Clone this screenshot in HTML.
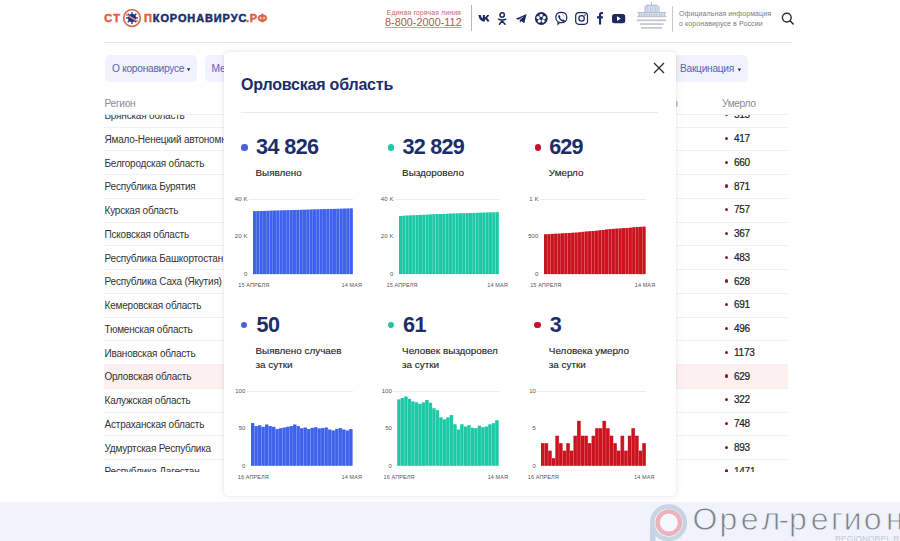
<!DOCTYPE html>
<html><head><meta charset="utf-8"><style>
*{margin:0;padding:0;box-sizing:border-box}
html,body{width:900px;height:541px;overflow:hidden;background:#fff;font-family:"Liberation Sans",sans-serif;position:relative}
.abs{position:absolute}
.t{position:absolute;white-space:nowrap;line-height:1}
.grid{position:absolute;height:1px;background:#ececec}
.bars{position:absolute;left:0;top:0}
.yl{position:absolute;font-size:6px;line-height:8px;color:#555;white-space:nowrap;letter-spacing:0.1px}
.xl{position:absolute;font-size:5.5px;line-height:10px;color:#555;white-space:nowrap;letter-spacing:0.1px}
.row{position:absolute;left:104px;width:684px;height:23.75px;border-bottom:1px solid #f1f1f3;font-size:10px;line-height:23.75px;color:#333;letter-spacing:-0.2px}
.row .n{position:absolute;left:0.5px;top:0.2px;white-space:nowrap}
.row .v{position:absolute;left:630px;top:-0.5px;font-size:10px;letter-spacing:-0.25px;color:#222;-webkit-text-stroke:0.2px #222}
.row .d{position:absolute;left:621px;top:9.2px;width:3.4px;height:3.4px;border-radius:50%;background:#8e1a2e}
.btn{position:absolute;background:#f0f3fd;border-radius:5px;font-size:10.2px;letter-spacing:-0.28px;color:#5a62b6;line-height:27.4px;white-space:nowrap}
.arr{display:inline-block;width:0;height:0;border-left:1.6px solid transparent;border-right:1.6px solid transparent;border-top:2.8px solid #2a2a3a;vertical-align:middle;margin-left:3.6px;position:relative;top:1px}
.num{position:absolute;font-weight:bold;font-size:21.6px;line-height:1;color:#1b2d6b;white-space:nowrap}
.lbl{position:absolute;font-size:9.9px;letter-spacing:0px;color:#222;white-space:nowrap;line-height:14.6px;-webkit-text-stroke:0.12px #222}
.dot{position:absolute;width:6.4px;height:6.4px;border-radius:50%}
</style></head><body>


<div class="t" style="left:104.2px;top:13.3px;font-weight:bold;font-size:11px;color:#e0603e;letter-spacing:1.3px;-webkit-text-stroke:0.5px #e0603e">СТ</div>
<svg class="abs" style="left:122.25px;top:8.25px" width="20" height="20" viewBox="0 0 20 20">
<circle cx="10" cy="10" r="8.3" fill="#fff" stroke="#d8705a" stroke-width="1.8"/>
<circle cx="10" cy="10" r="4" fill="#1f2f86"/>
<g stroke="#1f2f86" stroke-width="1.3"><line x1="10" y1="4" x2="10" y2="16"/><line x1="4" y1="10" x2="16" y2="10"/><line x1="5.7" y1="5.7" x2="14.3" y2="14.3"/><line x1="14.3" y1="5.7" x2="5.7" y2="14.3"/></g>
<line x1="4" y1="6.5" x2="16" y2="13.5" stroke="#e08a80" stroke-width="1.6"/>
</svg>
<div class="t" style="left:144px;top:13.3px;font-weight:bold;font-size:11px;color:#e0603e;-webkit-text-stroke:0.5px #e0603e">П</div>
<div class="t" style="left:152.8px;top:13.3px;font-weight:bold;font-size:11px;color:#1e2d6e;letter-spacing:0.88px;-webkit-text-stroke:0.5px #1e2d6e">КОРОНАВИРУС</div>
<div class="t" style="left:246px;top:13.3px;font-weight:bold;font-size:11px;color:#e0603e;letter-spacing:0.8px;-webkit-text-stroke:0.5px #e0603e">.РФ</div>

<div class="t" style="left:386.8px;top:9.6px;font-size:6.9px;color:#c46a5e;letter-spacing:0.12px">Единая горячая линия</div>
<div class="t" style="left:385px;top:17.2px;font-size:10.9px;color:#bc524a;text-decoration:underline;text-decoration-color:#e89890">8-800-2000-112</div>
<div class="abs" style="left:471px;top:5px;width:1px;height:26px;background:#b8b8bc"></div>


<svg class="abs" style="left:470px;top:5px" width="165" height="26" viewBox="470 5 165 26" fill="#1b2a5e">
<!-- VK -->
<path d="M478.5 15 h2.3 c0.2 1.8 1.2 3.2 2 3.5 V15 h2.1 v2.2 c0.8-0.1 1.8-1.3 2.1-2.2 h2.1 c-0.3 1.3-1.4 2.5-2.1 3 c0.8 0.4 1.9 1.5 2.4 3.5 h-2.3 c-0.4-1.2-1.3-2.1-2.2-2.2 V21.5 h-0.5 c-3.3 0-5.6-2.5-5.9-6.5z"/>
<!-- OK -->
<circle cx="502.2" cy="15" r="2.2" fill="none" stroke="#1b2a5e" stroke-width="1.5"/>
<path d="M498.6 19.2 c1.6 1.1 5.6 1.1 7.2 0" fill="none" stroke="#1b2a5e" stroke-width="1.5" stroke-linecap="round"/>
<path d="M499.4 24.2 l2.8-3.2 l2.8 3.2" fill="none" stroke="#1b2a5e" stroke-width="1.5" stroke-linecap="round"/>
<!-- Telegram -->
<path d="M515.8 18.7 L526.6 14 L524.3 23.3 L521.3 21 L519.9 22.7 L519.7 19.9 L524.2 16.1 L518.4 19.7 Z"/>
<!-- Flower circle -->
<circle cx="541.3" cy="18.5" r="6.4"/>
<g fill="#fff"><circle cx="541.2" cy="15.3" r="1.65"/><circle cx="544.3" cy="17.6" r="1.65"/><circle cx="543.1" cy="21" r="1.65"/><circle cx="539.3" cy="21" r="1.65"/><circle cx="538.1" cy="17.6" r="1.65"/></g>
<!-- Viber -->
<path d="M561.2 12.4 c3.4 0 5.6 1.6 5.6 5 c0 3.4-2.2 5.2-5.6 5.2 c-0.6 0-1.2-0.1-1.7-0.2 l-1.5 1.8 v-2.4 c-1.4-0.8-2.2-2.2-2.2-4.4 c0-3.4 2-5 5.4-5z" fill="none" stroke="#1b2a5e" stroke-width="1.2"/>
<path d="M558.6 15.2 c0.5-0.5 1-0.3 1.2 0.2 l0.5 1 c0.2 0.4 0 0.7-0.3 1 c0.5 1.2 1.3 2 2.4 2.5 c0.3-0.3 0.6-0.5 1-0.3 l1 0.5 c0.5 0.3 0.6 0.8 0.1 1.2 c-0.6 0.6-1.3 0.7-2.1 0.3 c-2-1-3.4-2.5-4.1-4.6 c-0.2-0.7 0-1.3 0.3-1.8z"/>
<path d="M562 14.6 c1.2 0.1 2 0.9 2.1 2.1" fill="none" stroke="#8c96b4" stroke-width="0.6"/>
<!-- Instagram -->
<rect x="575.7" y="12.5" width="11.8" height="11.8" rx="3.2" fill="none" stroke="#1b2a5e" stroke-width="1.25"/>
<circle cx="581.6" cy="18.4" r="2.7" fill="none" stroke="#1b2a5e" stroke-width="1.25"/>
<circle cx="585" cy="15" r="0.8"/>
<!-- Facebook -->
<path d="M599 24.5 v-6 h-2 v-2.2 h2 v-1.7 c0-1.8 1-2.7 2.6-2.7 c0.7 0 1.4 0.1 1.4 0.1 v2 h-0.9 c-0.8 0-1 0.4-1 1 v1.3 h2 l-0.3 2.2 h-1.7 v6z"/>
<!-- YouTube -->
<rect x="612" y="14" width="13.2" height="9.2" rx="2.5"/>
<path d="M617 16.3 v4.6 l3.8-2.3z" fill="#fff"/>
</svg>


<svg class="abs" style="left:0;top:0" width="900" height="36" viewBox="0 0 900 36">
<rect x="651.3" y="1.8" width="0.7" height="3" fill="#9aa8c0"/>
<rect x="646" y="4.6" width="11.5" height="1.4" fill="#b4c0d6"/>
<rect x="644" y="6" width="16" height="6.2" fill="#d2dcec"/>
<g fill="#b0bed6"><rect x="645" y="6.5" width="0.6" height="5.5"/><rect x="647.5" y="6.5" width="0.6" height="5.5"/><rect x="650" y="6.5" width="0.6" height="5.5"/><rect x="652.5" y="6.5" width="0.6" height="5.5"/><rect x="655" y="6.5" width="0.6" height="5.5"/><rect x="657.5" y="6.5" width="0.6" height="5.5"/></g>
<rect x="637.5" y="12" width="28.5" height="1.2" fill="#b4c0d6"/>
<rect x="638" y="13.2" width="27.5" height="3.3" fill="#d4dcea"/>
<g fill="#aab6cc"><rect x="639" y="13.2" width="0.6" height="3.3"/><rect x="641.5" y="13.2" width="0.6" height="3.3"/><rect x="644" y="13.2" width="0.6" height="3.3"/><rect x="646.5" y="13.2" width="0.6" height="3.3"/><rect x="649" y="13.2" width="0.6" height="3.3"/><rect x="651.5" y="13.2" width="0.6" height="3.3"/><rect x="654" y="13.2" width="0.6" height="3.3"/><rect x="656.5" y="13.2" width="0.6" height="3.3"/><rect x="659" y="13.2" width="0.6" height="3.3"/><rect x="661.5" y="13.2" width="0.6" height="3.3"/><rect x="664" y="13.2" width="0.6" height="3.3"/></g>
<rect x="637" y="16.4" width="29.5" height="0.8" fill="#a8b2c6"/>
<g fill="#c2c6d0"><rect x="636.8" y="19.4" width="29.2" height="1.8"/><rect x="640" y="23.2" width="23.5" height="1.7"/><rect x="641" y="27" width="21" height="1.7"/></g>
</svg>
<div class="abs" style="left:672px;top:5.5px;width:1px;height:26px;background:#c8c8cc"></div>
<div class="t" style="left:679px;top:9px;font-size:7px;line-height:10px;color:#7a7a84;letter-spacing:0.1px">Официальная информация<br>о коронавирусе в России</div>
<svg class="abs" style="left:780px;top:11px" width="16" height="16" viewBox="0 0 16 16">
<circle cx="6.8" cy="6.6" r="4.4" fill="none" stroke="#252c40" stroke-width="1.4"/>
<line x1="10" y1="9.8" x2="13.2" y2="13" stroke="#252c40" stroke-width="1.5" stroke-linecap="round"/>
</svg>
<div class="abs" style="left:104px;top:42px;width:688px;height:1px;background:#e6e6e8"></div>


<div class="btn" style="left:105px;top:54.8px;width:92px;height:26.9px;padding-left:7px">О коронавирусе</div>
<div class="btn" style="left:204.6px;top:54.8px;width:120px;height:26.9px;padding-left:7px">Меры поддержки</div>
<div class="btn" style="left:600px;top:54.8px;width:148px;height:26.9px;padding-left:80px">Вакцинация</div>
<svg class="abs" style="left:0;top:0" width="900" height="100" viewBox="0 0 900 100"><path d="M186.9 68.2 H190.3 L188.6 71.2z M737.7 68.4 H741.1 L739.4 71.4z" fill="#2a2a3a"/></svg>


<div class="t" style="left:104.5px;top:99.4px;font-size:10.2px;color:#8a8a94;letter-spacing:-0.3px">Регион</div>
<div class="t" style="right:222.5px;top:99.4px;font-size:10.2px;color:#8a8a94;letter-spacing:-0.3px">Выздоровело</div>
<div class="t" style="left:722px;top:99.4px;font-size:10.2px;color:#8a8a94;letter-spacing:-0.38px">Умерло</div>

<div class="abs" style="left:104px;top:114px;width:684px;height:1px;background:#f0f0f2"></div>
<div class="abs" style="left:0;top:114.6px;width:900px;height:357.9px;overflow:hidden">
<div class="row" style="top:-10.75px;"><span class="n">Брянская область</span><span class="d"></span><span class="v">515</span></div>
<div class="row" style="top:13.00px;"><span class="n">Ямало-Ненецкий автономный округ</span><span class="d"></span><span class="v">417</span></div>
<div class="row" style="top:36.75px;"><span class="n">Белгородская область</span><span class="d"></span><span class="v">660</span></div>
<div class="row" style="top:60.50px;"><span class="n">Республика Бурятия</span><span class="d"></span><span class="v">871</span></div>
<div class="row" style="top:84.25px;"><span class="n">Курская область</span><span class="d"></span><span class="v">757</span></div>
<div class="row" style="top:108.00px;"><span class="n">Псковская область</span><span class="d"></span><span class="v">367</span></div>
<div class="row" style="top:131.75px;"><span class="n">Республика Башкортостан</span><span class="d"></span><span class="v">483</span></div>
<div class="row" style="top:155.50px;"><span class="n">Республика Саха (Якутия)</span><span class="d"></span><span class="v">628</span></div>
<div class="row" style="top:179.25px;"><span class="n">Кемеровская область</span><span class="d"></span><span class="v">691</span></div>
<div class="row" style="top:203.00px;"><span class="n">Тюменская область</span><span class="d"></span><span class="v">496</span></div>
<div class="row" style="top:226.75px;"><span class="n">Ивановская область</span><span class="d"></span><span class="v">1173</span></div>
<div class="row" style="top:250.50px;background:#fdf0f0;"><span class="n">Орловская область</span><span class="d"></span><span class="v">629</span></div>
<div class="row" style="top:274.25px;"><span class="n">Калужская область</span><span class="d"></span><span class="v">322</span></div>
<div class="row" style="top:298.00px;"><span class="n">Астраханская область</span><span class="d"></span><span class="v">748</span></div>
<div class="row" style="top:321.75px;"><span class="n">Удмуртская Республика</span><span class="d"></span><span class="v">893</span></div>
<div class="row" style="top:345.50px;"><span class="n">Республика Дагестан</span><span class="d"></span><span class="v">1471</span></div>
</div>

<div class="abs" style="left:0;top:502px;width:900px;height:39px;background:#f0f3fb"></div>
<svg class="abs" style="left:0;top:0" width="900" height="541" viewBox="0 0 900 541">
<circle cx="668.5" cy="522.7" r="16.3" fill="none" stroke="#c8d3e3" stroke-width="4.5"/>
<rect x="650" y="522.7" width="5.5" height="20" fill="#c8d3e3"/>
<circle cx="668.8" cy="522.6" r="13.6" fill="#f6f8fc"/>
<circle cx="668.8" cy="522.6" r="11.2" fill="none" stroke="#ebb3bb" stroke-width="4.4"/>
<text x="692.5 719.5 740.7 761.4 778.6 788.9 810.7 830.9 843.7 863.8 885.9" y="530" font-family="Liberation Sans" font-size="32" fill="#7c8088" stroke="#f0f3fb" stroke-width="0.8">Орел-регион</text>
<text x="835" y="542" font-family="Liberation Sans" font-size="8.4" fill="#c4cad8" letter-spacing="0">REGIONOREL.RU</text>
</svg>


<div class="abs" style="left:223.5px;top:52px;width:452px;height:443.5px;background:#fff;border-radius:4px;box-shadow:0 0 8px rgba(0,0,0,0.07),0 0 1.5px rgba(0,0,0,0.12)"></div>
<div class="t" style="left:241px;top:77px;font-weight:bold;font-size:16px;color:#1b2d6b;letter-spacing:-0.2px">Орловская область</div>
<svg class="abs" style="left:652px;top:61px" width="14" height="14" viewBox="0 0 14 14"><path d="M2 2 L12 12 M12 2 L2 12" stroke="#2a2a2a" stroke-width="1.25"/></svg>
<div class="abs" style="left:241px;top:112px;width:416.5px;height:1px;background:#ebebed"></div>

<div class="dot" style="left:241.4px;top:144.4px;background:#4a60dc"></div>
<div class="num" style="left:256.0px;top:135.9px;letter-spacing:-0.6px">34 826</div>
<div class="lbl" style="left:255.5px;top:165.8px">Выявлено</div>
<div class="dot" style="left:240.9px;top:321.6px;background:#4a60dc"></div>
<div class="num" style="left:256.5px;top:314.2px;letter-spacing:-0.6px">50</div>
<div class="lbl" style="left:255.5px;top:343.6px">Выявлено случаев<br>за сутки</div>
<div class="dot" style="left:388.0px;top:144.4px;background:#22c5a2"></div>
<div class="num" style="left:402.6px;top:135.9px;letter-spacing:-0.8px">32 829</div>
<div class="lbl" style="left:402.1px;top:165.8px">Выздоровело</div>
<div class="dot" style="left:387.5px;top:321.6px;background:#22c5a2"></div>
<div class="num" style="left:403.1px;top:314.2px;letter-spacing:-0.6px">61</div>
<div class="lbl" style="left:402.1px;top:343.6px">Человек выздоровел<br>за сутки</div>
<div class="dot" style="left:534.7px;top:144.4px;background:#c8102e"></div>
<div class="num" style="left:549.3px;top:135.9px;letter-spacing:-0.95px">629</div>
<div class="lbl" style="left:548.8px;top:165.8px">Умерло</div>
<div class="dot" style="left:534.2px;top:321.6px;background:#c8102e"></div>
<div class="num" style="left:549.8px;top:314.2px;letter-spacing:-0.6px">3</div>
<div class="lbl" style="left:548.8px;top:343.6px">Человека умерло<br>за сутки</div>
<div class="grid" style="left:248.5px;top:198.8px;width:104.5px"></div>
<svg class="bars" width="900" height="541" viewBox="0 0 900 541"><rect x="253.00" y="211.24" width="3.33" height="62.86" fill="#8aa2ff"/><rect x="253.00" y="211.24" width="2.93" height="62.86" fill="#3f62ec"/><rect x="256.33" y="211.14" width="3.33" height="62.96" fill="#8aa2ff"/><rect x="256.33" y="211.14" width="2.93" height="62.96" fill="#3f62ec"/><rect x="259.67" y="211.04" width="3.33" height="63.06" fill="#8aa2ff"/><rect x="259.67" y="211.04" width="2.93" height="63.06" fill="#3f62ec"/><rect x="263.00" y="210.94" width="3.33" height="63.16" fill="#8aa2ff"/><rect x="263.00" y="210.94" width="2.93" height="63.16" fill="#3f62ec"/><rect x="266.33" y="210.84" width="3.33" height="63.26" fill="#8aa2ff"/><rect x="266.33" y="210.84" width="2.93" height="63.26" fill="#3f62ec"/><rect x="269.67" y="210.73" width="3.33" height="63.37" fill="#8aa2ff"/><rect x="269.67" y="210.73" width="2.93" height="63.37" fill="#3f62ec"/><rect x="273.00" y="210.63" width="3.33" height="63.47" fill="#8aa2ff"/><rect x="273.00" y="210.63" width="2.93" height="63.47" fill="#3f62ec"/><rect x="276.33" y="210.54" width="3.33" height="63.56" fill="#8aa2ff"/><rect x="276.33" y="210.54" width="2.93" height="63.56" fill="#3f62ec"/><rect x="279.67" y="210.44" width="3.33" height="63.66" fill="#8aa2ff"/><rect x="279.67" y="210.44" width="2.93" height="63.66" fill="#3f62ec"/><rect x="283.00" y="210.35" width="3.33" height="63.75" fill="#8aa2ff"/><rect x="283.00" y="210.35" width="2.93" height="63.75" fill="#3f62ec"/><rect x="286.33" y="210.25" width="3.33" height="63.85" fill="#8aa2ff"/><rect x="286.33" y="210.25" width="2.93" height="63.85" fill="#3f62ec"/><rect x="289.67" y="210.15" width="3.33" height="63.95" fill="#8aa2ff"/><rect x="289.67" y="210.15" width="2.93" height="63.95" fill="#3f62ec"/><rect x="293.00" y="210.06" width="3.33" height="64.04" fill="#8aa2ff"/><rect x="293.00" y="210.06" width="2.93" height="64.04" fill="#3f62ec"/><rect x="296.33" y="209.95" width="3.33" height="64.15" fill="#8aa2ff"/><rect x="296.33" y="209.95" width="2.93" height="64.15" fill="#3f62ec"/><rect x="299.67" y="209.85" width="3.33" height="64.25" fill="#8aa2ff"/><rect x="299.67" y="209.85" width="2.93" height="64.25" fill="#3f62ec"/><rect x="303.00" y="209.76" width="3.33" height="64.34" fill="#8aa2ff"/><rect x="303.00" y="209.76" width="2.93" height="64.34" fill="#3f62ec"/><rect x="306.33" y="209.66" width="3.33" height="64.44" fill="#8aa2ff"/><rect x="306.33" y="209.66" width="2.93" height="64.44" fill="#3f62ec"/><rect x="309.67" y="209.57" width="3.33" height="64.53" fill="#8aa2ff"/><rect x="309.67" y="209.57" width="2.93" height="64.53" fill="#3f62ec"/><rect x="313.00" y="209.47" width="3.33" height="64.63" fill="#8aa2ff"/><rect x="313.00" y="209.47" width="2.93" height="64.63" fill="#3f62ec"/><rect x="316.33" y="209.38" width="3.33" height="64.72" fill="#8aa2ff"/><rect x="316.33" y="209.38" width="2.93" height="64.72" fill="#3f62ec"/><rect x="319.67" y="209.28" width="3.33" height="64.82" fill="#8aa2ff"/><rect x="319.67" y="209.28" width="2.93" height="64.82" fill="#3f62ec"/><rect x="323.00" y="209.19" width="3.33" height="64.91" fill="#8aa2ff"/><rect x="323.00" y="209.19" width="2.93" height="64.91" fill="#3f62ec"/><rect x="326.33" y="209.09" width="3.33" height="65.01" fill="#8aa2ff"/><rect x="326.33" y="209.09" width="2.93" height="65.01" fill="#3f62ec"/><rect x="329.67" y="209.00" width="3.33" height="65.10" fill="#8aa2ff"/><rect x="329.67" y="209.00" width="2.93" height="65.10" fill="#3f62ec"/><rect x="333.00" y="208.91" width="3.33" height="65.19" fill="#8aa2ff"/><rect x="333.00" y="208.91" width="2.93" height="65.19" fill="#3f62ec"/><rect x="336.33" y="208.82" width="3.33" height="65.28" fill="#8aa2ff"/><rect x="336.33" y="208.82" width="2.93" height="65.28" fill="#3f62ec"/><rect x="339.67" y="208.72" width="3.33" height="65.38" fill="#8aa2ff"/><rect x="339.67" y="208.72" width="2.93" height="65.38" fill="#3f62ec"/><rect x="343.00" y="208.63" width="3.33" height="65.47" fill="#8aa2ff"/><rect x="343.00" y="208.63" width="2.93" height="65.47" fill="#3f62ec"/><rect x="346.33" y="208.55" width="3.33" height="65.55" fill="#8aa2ff"/><rect x="346.33" y="208.55" width="2.93" height="65.55" fill="#3f62ec"/><rect x="349.67" y="208.45" width="3.33" height="65.65" fill="#8aa2ff"/><rect x="349.67" y="208.45" width="2.93" height="65.65" fill="#3f62ec"/></svg>
<div class="yl" style="right:652.5px;top:194.7px">40 K</div>
<div class="yl" style="right:652.5px;top:232.4px">20 K</div>
<div class="yl" style="right:652.5px;top:270.1px">0</div>
<div class="xl" style="left:238.3px;top:280.3px">15 АПРЕЛЯ</div>
<div class="xl" style="right:538.0px;top:280.3px">14 МАЯ</div>
<div class="grid" style="left:394.5px;top:198.8px;width:104.5px"></div>
<svg class="bars" width="900" height="541" viewBox="0 0 900 541"><rect x="399.00" y="215.94" width="3.33" height="58.16" fill="#7fe8d0"/><rect x="399.00" y="215.94" width="2.93" height="58.16" fill="#1ec8a5"/><rect x="402.33" y="215.78" width="3.33" height="58.32" fill="#7fe8d0"/><rect x="402.33" y="215.78" width="2.93" height="58.32" fill="#1ec8a5"/><rect x="405.67" y="215.61" width="3.33" height="58.49" fill="#7fe8d0"/><rect x="405.67" y="215.61" width="2.93" height="58.49" fill="#1ec8a5"/><rect x="409.00" y="215.43" width="3.33" height="58.67" fill="#7fe8d0"/><rect x="409.00" y="215.43" width="2.93" height="58.67" fill="#1ec8a5"/><rect x="412.33" y="215.26" width="3.33" height="58.84" fill="#7fe8d0"/><rect x="412.33" y="215.26" width="2.93" height="58.84" fill="#1ec8a5"/><rect x="415.67" y="215.10" width="3.33" height="59.00" fill="#7fe8d0"/><rect x="415.67" y="215.10" width="2.93" height="59.00" fill="#1ec8a5"/><rect x="419.00" y="214.94" width="3.33" height="59.16" fill="#7fe8d0"/><rect x="419.00" y="214.94" width="2.93" height="59.16" fill="#1ec8a5"/><rect x="422.33" y="214.79" width="3.33" height="59.31" fill="#7fe8d0"/><rect x="422.33" y="214.79" width="2.93" height="59.31" fill="#1ec8a5"/><rect x="425.67" y="214.63" width="3.33" height="59.47" fill="#7fe8d0"/><rect x="425.67" y="214.63" width="2.93" height="59.47" fill="#1ec8a5"/><rect x="429.00" y="214.46" width="3.33" height="59.64" fill="#7fe8d0"/><rect x="429.00" y="214.46" width="2.93" height="59.64" fill="#1ec8a5"/><rect x="432.33" y="214.30" width="3.33" height="59.80" fill="#7fe8d0"/><rect x="432.33" y="214.30" width="2.93" height="59.80" fill="#1ec8a5"/><rect x="435.67" y="214.16" width="3.33" height="59.94" fill="#7fe8d0"/><rect x="435.67" y="214.16" width="2.93" height="59.94" fill="#1ec8a5"/><rect x="439.00" y="214.02" width="3.33" height="60.08" fill="#7fe8d0"/><rect x="439.00" y="214.02" width="2.93" height="60.08" fill="#1ec8a5"/><rect x="442.33" y="213.90" width="3.33" height="60.20" fill="#7fe8d0"/><rect x="442.33" y="213.90" width="2.93" height="60.20" fill="#1ec8a5"/><rect x="445.67" y="213.78" width="3.33" height="60.32" fill="#7fe8d0"/><rect x="445.67" y="213.78" width="2.93" height="60.32" fill="#1ec8a5"/><rect x="449.00" y="213.66" width="3.33" height="60.44" fill="#7fe8d0"/><rect x="449.00" y="213.66" width="2.93" height="60.44" fill="#1ec8a5"/><rect x="452.33" y="213.53" width="3.33" height="60.57" fill="#7fe8d0"/><rect x="452.33" y="213.53" width="2.93" height="60.57" fill="#1ec8a5"/><rect x="455.67" y="213.43" width="3.33" height="60.67" fill="#7fe8d0"/><rect x="455.67" y="213.43" width="2.93" height="60.67" fill="#1ec8a5"/><rect x="459.00" y="213.33" width="3.33" height="60.77" fill="#7fe8d0"/><rect x="459.00" y="213.33" width="2.93" height="60.77" fill="#1ec8a5"/><rect x="462.33" y="213.23" width="3.33" height="60.87" fill="#7fe8d0"/><rect x="462.33" y="213.23" width="2.93" height="60.87" fill="#1ec8a5"/><rect x="465.67" y="213.13" width="3.33" height="60.97" fill="#7fe8d0"/><rect x="465.67" y="213.13" width="2.93" height="60.97" fill="#1ec8a5"/><rect x="469.00" y="213.03" width="3.33" height="61.07" fill="#7fe8d0"/><rect x="469.00" y="213.03" width="2.93" height="61.07" fill="#1ec8a5"/><rect x="472.33" y="212.93" width="3.33" height="61.17" fill="#7fe8d0"/><rect x="472.33" y="212.93" width="2.93" height="61.17" fill="#1ec8a5"/><rect x="475.67" y="212.84" width="3.33" height="61.26" fill="#7fe8d0"/><rect x="475.67" y="212.84" width="2.93" height="61.26" fill="#1ec8a5"/><rect x="479.00" y="212.74" width="3.33" height="61.36" fill="#7fe8d0"/><rect x="479.00" y="212.74" width="2.93" height="61.36" fill="#1ec8a5"/><rect x="482.33" y="212.64" width="3.33" height="61.46" fill="#7fe8d0"/><rect x="482.33" y="212.64" width="2.93" height="61.46" fill="#1ec8a5"/><rect x="485.67" y="212.54" width="3.33" height="61.56" fill="#7fe8d0"/><rect x="485.67" y="212.54" width="2.93" height="61.56" fill="#1ec8a5"/><rect x="489.00" y="212.44" width="3.33" height="61.66" fill="#7fe8d0"/><rect x="489.00" y="212.44" width="2.93" height="61.66" fill="#1ec8a5"/><rect x="492.33" y="212.33" width="3.33" height="61.77" fill="#7fe8d0"/><rect x="492.33" y="212.33" width="2.93" height="61.77" fill="#1ec8a5"/><rect x="495.67" y="212.22" width="3.33" height="61.88" fill="#7fe8d0"/><rect x="495.67" y="212.22" width="2.93" height="61.88" fill="#1ec8a5"/></svg>
<div class="yl" style="right:506.5px;top:194.7px">40 K</div>
<div class="yl" style="right:506.5px;top:232.4px">20 K</div>
<div class="yl" style="right:506.5px;top:270.1px">0</div>
<div class="xl" style="left:386.5px;top:280.3px">15 АПРЕЛЯ</div>
<div class="xl" style="right:392.2px;top:280.3px">14 МАЯ</div>
<div class="grid" style="left:539.5px;top:198.8px;width:106.3px"></div>
<svg class="bars" width="900" height="541" viewBox="0 0 900 541"><rect x="544.00" y="234.36" width="3.39" height="39.74" fill="#f07078"/><rect x="544.00" y="234.36" width="2.99" height="39.74" fill="#c91420"/><rect x="547.39" y="234.14" width="3.39" height="39.96" fill="#f07078"/><rect x="547.39" y="234.14" width="2.99" height="39.96" fill="#c91420"/><rect x="550.79" y="233.91" width="3.39" height="40.19" fill="#f07078"/><rect x="550.79" y="233.91" width="2.99" height="40.19" fill="#c91420"/><rect x="554.18" y="233.76" width="3.39" height="40.34" fill="#f07078"/><rect x="554.18" y="233.76" width="2.99" height="40.34" fill="#c91420"/><rect x="557.57" y="233.69" width="3.39" height="40.41" fill="#f07078"/><rect x="557.57" y="233.69" width="2.99" height="40.41" fill="#c91420"/><rect x="560.97" y="233.38" width="3.39" height="40.72" fill="#f07078"/><rect x="560.97" y="233.38" width="2.99" height="40.72" fill="#c91420"/><rect x="564.36" y="233.16" width="3.39" height="40.94" fill="#f07078"/><rect x="564.36" y="233.16" width="2.99" height="40.94" fill="#c91420"/><rect x="567.75" y="233.01" width="3.39" height="41.09" fill="#f07078"/><rect x="567.75" y="233.01" width="2.99" height="41.09" fill="#c91420"/><rect x="571.15" y="232.78" width="3.39" height="41.32" fill="#f07078"/><rect x="571.15" y="232.78" width="2.99" height="41.32" fill="#c91420"/><rect x="574.54" y="232.63" width="3.39" height="41.47" fill="#f07078"/><rect x="574.54" y="232.63" width="2.99" height="41.47" fill="#c91420"/><rect x="577.93" y="232.33" width="3.39" height="41.77" fill="#f07078"/><rect x="577.93" y="232.33" width="2.99" height="41.77" fill="#c91420"/><rect x="581.33" y="231.88" width="3.39" height="42.22" fill="#f07078"/><rect x="581.33" y="231.88" width="2.99" height="42.22" fill="#c91420"/><rect x="584.72" y="231.57" width="3.39" height="42.53" fill="#f07078"/><rect x="584.72" y="231.57" width="2.99" height="42.53" fill="#c91420"/><rect x="588.11" y="231.27" width="3.39" height="42.83" fill="#f07078"/><rect x="588.11" y="231.27" width="2.99" height="42.83" fill="#c91420"/><rect x="591.51" y="231.05" width="3.39" height="43.05" fill="#f07078"/><rect x="591.51" y="231.05" width="2.99" height="43.05" fill="#c91420"/><rect x="594.90" y="230.75" width="3.39" height="43.36" fill="#f07078"/><rect x="594.90" y="230.75" width="2.99" height="43.36" fill="#c91420"/><rect x="598.29" y="230.37" width="3.39" height="43.73" fill="#f07078"/><rect x="598.29" y="230.37" width="2.99" height="43.73" fill="#c91420"/><rect x="601.69" y="229.99" width="3.39" height="44.11" fill="#f07078"/><rect x="601.69" y="229.99" width="2.99" height="44.11" fill="#c91420"/><rect x="605.08" y="229.54" width="3.39" height="44.56" fill="#f07078"/><rect x="605.08" y="229.54" width="2.99" height="44.56" fill="#c91420"/><rect x="608.47" y="229.16" width="3.39" height="44.94" fill="#f07078"/><rect x="608.47" y="229.16" width="2.99" height="44.94" fill="#c91420"/><rect x="611.87" y="228.86" width="3.39" height="45.24" fill="#f07078"/><rect x="611.87" y="228.86" width="2.99" height="45.24" fill="#c91420"/><rect x="615.26" y="228.63" width="3.39" height="45.47" fill="#f07078"/><rect x="615.26" y="228.63" width="2.99" height="45.47" fill="#c91420"/><rect x="618.65" y="228.48" width="3.39" height="45.62" fill="#f07078"/><rect x="618.65" y="228.48" width="2.99" height="45.62" fill="#c91420"/><rect x="622.05" y="228.18" width="3.39" height="45.92" fill="#f07078"/><rect x="622.05" y="228.18" width="2.99" height="45.92" fill="#c91420"/><rect x="625.44" y="228.03" width="3.39" height="46.07" fill="#f07078"/><rect x="625.44" y="228.03" width="2.99" height="46.07" fill="#c91420"/><rect x="628.83" y="227.73" width="3.39" height="46.37" fill="#f07078"/><rect x="628.83" y="227.73" width="2.99" height="46.37" fill="#c91420"/><rect x="632.23" y="227.35" width="3.39" height="46.75" fill="#f07078"/><rect x="632.23" y="227.35" width="2.99" height="46.75" fill="#c91420"/><rect x="635.62" y="227.05" width="3.39" height="47.05" fill="#f07078"/><rect x="635.62" y="227.05" width="2.99" height="47.05" fill="#c91420"/><rect x="639.01" y="226.90" width="3.39" height="47.20" fill="#f07078"/><rect x="639.01" y="226.90" width="2.99" height="47.20" fill="#c91420"/><rect x="642.41" y="226.67" width="3.39" height="47.43" fill="#f07078"/><rect x="642.41" y="226.67" width="2.99" height="47.43" fill="#c91420"/></svg>
<div class="yl" style="right:361.5px;top:194.7px">1 K</div>
<div class="yl" style="right:361.5px;top:232.4px">500</div>
<div class="yl" style="right:361.5px;top:270.1px">0</div>
<div class="xl" style="left:530.2px;top:280.3px">15 АПРЕЛЯ</div>
<div class="xl" style="right:244.8px;top:280.3px">14 МАЯ</div>
<div class="grid" style="left:246.5px;top:391.1px;width:106.2px"></div>
<svg class="bars" width="900" height="541" viewBox="0 0 900 541"><rect x="251.00" y="423.12" width="3.51" height="42.58" fill="#8aa2ff"/><rect x="251.00" y="423.12" width="3.11" height="42.58" fill="#3f62ec"/><rect x="254.51" y="426.11" width="3.51" height="39.59" fill="#8aa2ff"/><rect x="254.51" y="426.11" width="3.11" height="39.59" fill="#3f62ec"/><rect x="258.01" y="425.36" width="3.51" height="40.34" fill="#8aa2ff"/><rect x="258.01" y="425.36" width="3.11" height="40.34" fill="#3f62ec"/><rect x="261.52" y="426.86" width="3.51" height="38.84" fill="#8aa2ff"/><rect x="261.52" y="426.86" width="3.11" height="38.84" fill="#3f62ec"/><rect x="265.03" y="424.62" width="3.51" height="41.08" fill="#8aa2ff"/><rect x="265.03" y="424.62" width="3.11" height="41.08" fill="#3f62ec"/><rect x="268.53" y="426.11" width="3.51" height="39.59" fill="#8aa2ff"/><rect x="268.53" y="426.11" width="3.11" height="39.59" fill="#3f62ec"/><rect x="272.04" y="426.86" width="3.51" height="38.84" fill="#8aa2ff"/><rect x="272.04" y="426.86" width="3.11" height="38.84" fill="#3f62ec"/><rect x="275.55" y="429.10" width="3.51" height="36.60" fill="#8aa2ff"/><rect x="275.55" y="429.10" width="3.11" height="36.60" fill="#3f62ec"/><rect x="279.06" y="428.35" width="3.51" height="37.35" fill="#8aa2ff"/><rect x="279.06" y="428.35" width="3.11" height="37.35" fill="#3f62ec"/><rect x="282.56" y="427.60" width="3.51" height="38.10" fill="#8aa2ff"/><rect x="282.56" y="427.60" width="3.11" height="38.10" fill="#3f62ec"/><rect x="286.07" y="426.86" width="3.51" height="38.84" fill="#8aa2ff"/><rect x="286.07" y="426.86" width="3.11" height="38.84" fill="#3f62ec"/><rect x="289.58" y="426.11" width="3.51" height="39.59" fill="#8aa2ff"/><rect x="289.58" y="426.11" width="3.11" height="39.59" fill="#3f62ec"/><rect x="293.08" y="424.62" width="3.51" height="41.08" fill="#8aa2ff"/><rect x="293.08" y="424.62" width="3.11" height="41.08" fill="#3f62ec"/><rect x="296.59" y="426.11" width="3.51" height="39.59" fill="#8aa2ff"/><rect x="296.59" y="426.11" width="3.11" height="39.59" fill="#3f62ec"/><rect x="300.10" y="428.35" width="3.51" height="37.35" fill="#8aa2ff"/><rect x="300.10" y="428.35" width="3.11" height="37.35" fill="#3f62ec"/><rect x="303.60" y="427.60" width="3.51" height="38.10" fill="#8aa2ff"/><rect x="303.60" y="427.60" width="3.11" height="38.10" fill="#3f62ec"/><rect x="307.11" y="429.10" width="3.51" height="36.60" fill="#8aa2ff"/><rect x="307.11" y="429.10" width="3.11" height="36.60" fill="#3f62ec"/><rect x="310.62" y="427.90" width="3.51" height="37.80" fill="#8aa2ff"/><rect x="310.62" y="427.90" width="3.11" height="37.80" fill="#3f62ec"/><rect x="314.12" y="427.30" width="3.51" height="38.40" fill="#8aa2ff"/><rect x="314.12" y="427.30" width="3.11" height="38.40" fill="#3f62ec"/><rect x="317.63" y="428.57" width="3.51" height="37.13" fill="#8aa2ff"/><rect x="317.63" y="428.57" width="3.11" height="37.13" fill="#3f62ec"/><rect x="321.14" y="428.13" width="3.51" height="37.57" fill="#8aa2ff"/><rect x="321.14" y="428.13" width="3.11" height="37.57" fill="#3f62ec"/><rect x="324.64" y="427.60" width="3.51" height="38.10" fill="#8aa2ff"/><rect x="324.64" y="427.60" width="3.11" height="38.10" fill="#3f62ec"/><rect x="328.15" y="429.62" width="3.51" height="36.08" fill="#8aa2ff"/><rect x="328.15" y="429.62" width="3.11" height="36.08" fill="#3f62ec"/><rect x="331.66" y="430.59" width="3.51" height="35.11" fill="#8aa2ff"/><rect x="331.66" y="430.59" width="3.11" height="35.11" fill="#3f62ec"/><rect x="335.17" y="429.10" width="3.51" height="36.60" fill="#8aa2ff"/><rect x="335.17" y="429.10" width="3.11" height="36.60" fill="#3f62ec"/><rect x="338.67" y="428.13" width="3.51" height="37.57" fill="#8aa2ff"/><rect x="338.67" y="428.13" width="3.11" height="37.57" fill="#3f62ec"/><rect x="342.18" y="429.62" width="3.51" height="36.08" fill="#8aa2ff"/><rect x="342.18" y="429.62" width="3.11" height="36.08" fill="#3f62ec"/><rect x="345.69" y="430.59" width="3.51" height="35.11" fill="#8aa2ff"/><rect x="345.69" y="430.59" width="3.11" height="35.11" fill="#3f62ec"/><rect x="349.19" y="429.10" width="3.51" height="36.60" fill="#8aa2ff"/><rect x="349.19" y="429.10" width="3.11" height="36.60" fill="#3f62ec"/></svg>
<div class="yl" style="right:654.5px;top:387.0px">100</div>
<div class="yl" style="right:654.5px;top:424.4px">50</div>
<div class="yl" style="right:654.5px;top:461.7px">0</div>
<div class="xl" style="left:237.8px;top:471.6px">16 АПРЕЛЯ</div>
<div class="xl" style="right:538.0px;top:471.6px">14 МАЯ</div>
<div class="grid" style="left:393.0px;top:391.1px;width:105.8px"></div>
<svg class="bars" width="900" height="541" viewBox="0 0 900 541"><rect x="397.30" y="399.52" width="3.50" height="66.18" fill="#7fe8d0"/><rect x="397.30" y="399.52" width="3.10" height="66.18" fill="#1ec8a5"/><rect x="400.80" y="398.02" width="3.50" height="67.68" fill="#7fe8d0"/><rect x="400.80" y="398.02" width="3.10" height="67.68" fill="#1ec8a5"/><rect x="404.30" y="396.60" width="3.50" height="69.10" fill="#7fe8d0"/><rect x="404.30" y="396.60" width="3.10" height="69.10" fill="#1ec8a5"/><rect x="407.80" y="398.92" width="3.50" height="66.78" fill="#7fe8d0"/><rect x="407.80" y="398.92" width="3.10" height="66.78" fill="#1ec8a5"/><rect x="411.30" y="401.53" width="3.50" height="64.17" fill="#7fe8d0"/><rect x="411.30" y="401.53" width="3.10" height="64.17" fill="#1ec8a5"/><rect x="414.80" y="402.43" width="3.50" height="63.27" fill="#7fe8d0"/><rect x="414.80" y="402.43" width="3.10" height="63.27" fill="#1ec8a5"/><rect x="418.30" y="403.85" width="3.50" height="61.85" fill="#7fe8d0"/><rect x="418.30" y="403.85" width="3.10" height="61.85" fill="#1ec8a5"/><rect x="421.80" y="402.43" width="3.50" height="63.27" fill="#7fe8d0"/><rect x="421.80" y="402.43" width="3.10" height="63.27" fill="#1ec8a5"/><rect x="425.30" y="399.96" width="3.50" height="65.74" fill="#7fe8d0"/><rect x="425.30" y="399.96" width="3.10" height="65.74" fill="#1ec8a5"/><rect x="428.80" y="402.80" width="3.50" height="62.90" fill="#7fe8d0"/><rect x="428.80" y="402.80" width="3.10" height="62.90" fill="#1ec8a5"/><rect x="432.30" y="408.33" width="3.50" height="57.37" fill="#7fe8d0"/><rect x="432.30" y="408.33" width="3.10" height="57.37" fill="#1ec8a5"/><rect x="435.80" y="410.27" width="3.50" height="55.43" fill="#7fe8d0"/><rect x="435.80" y="410.27" width="3.10" height="55.43" fill="#1ec8a5"/><rect x="439.30" y="417.44" width="3.50" height="48.26" fill="#7fe8d0"/><rect x="439.30" y="417.44" width="3.10" height="48.26" fill="#1ec8a5"/><rect x="442.80" y="419.39" width="3.50" height="46.31" fill="#7fe8d0"/><rect x="442.80" y="419.39" width="3.10" height="46.31" fill="#1ec8a5"/><rect x="446.30" y="417.44" width="3.50" height="48.26" fill="#7fe8d0"/><rect x="446.30" y="417.44" width="3.10" height="48.26" fill="#1ec8a5"/><rect x="449.80" y="415.13" width="3.50" height="50.57" fill="#7fe8d0"/><rect x="449.80" y="415.13" width="3.10" height="50.57" fill="#1ec8a5"/><rect x="453.30" y="424.32" width="3.50" height="41.38" fill="#7fe8d0"/><rect x="453.30" y="424.32" width="3.10" height="41.38" fill="#1ec8a5"/><rect x="456.80" y="429.69" width="3.50" height="36.01" fill="#7fe8d0"/><rect x="456.80" y="429.69" width="3.10" height="36.01" fill="#1ec8a5"/><rect x="460.30" y="424.32" width="3.50" height="41.38" fill="#7fe8d0"/><rect x="460.30" y="424.32" width="3.10" height="41.38" fill="#1ec8a5"/><rect x="463.80" y="426.63" width="3.50" height="39.07" fill="#7fe8d0"/><rect x="463.80" y="426.63" width="3.10" height="39.07" fill="#1ec8a5"/><rect x="467.30" y="425.29" width="3.50" height="40.41" fill="#7fe8d0"/><rect x="467.30" y="425.29" width="3.10" height="40.41" fill="#1ec8a5"/><rect x="470.80" y="427.83" width="3.50" height="37.87" fill="#7fe8d0"/><rect x="470.80" y="427.83" width="3.10" height="37.87" fill="#1ec8a5"/><rect x="474.30" y="428.20" width="3.50" height="37.50" fill="#7fe8d0"/><rect x="474.30" y="428.20" width="3.10" height="37.50" fill="#1ec8a5"/><rect x="477.80" y="425.81" width="3.50" height="39.89" fill="#7fe8d0"/><rect x="477.80" y="425.81" width="3.10" height="39.89" fill="#1ec8a5"/><rect x="481.30" y="427.23" width="3.50" height="38.47" fill="#7fe8d0"/><rect x="481.30" y="427.23" width="3.10" height="38.47" fill="#1ec8a5"/><rect x="484.80" y="426.63" width="3.50" height="39.07" fill="#7fe8d0"/><rect x="484.80" y="426.63" width="3.10" height="39.07" fill="#1ec8a5"/><rect x="488.30" y="424.47" width="3.50" height="41.23" fill="#7fe8d0"/><rect x="488.30" y="424.47" width="3.10" height="41.23" fill="#1ec8a5"/><rect x="491.80" y="423.27" width="3.50" height="42.43" fill="#7fe8d0"/><rect x="491.80" y="423.27" width="3.10" height="42.43" fill="#1ec8a5"/><rect x="495.30" y="420.36" width="3.50" height="45.34" fill="#7fe8d0"/><rect x="495.30" y="420.36" width="3.10" height="45.34" fill="#1ec8a5"/></svg>
<div class="yl" style="right:508.0px;top:387.0px">100</div>
<div class="yl" style="right:508.0px;top:424.4px">50</div>
<div class="yl" style="right:508.0px;top:461.7px">0</div>
<div class="xl" style="left:383.5px;top:471.6px">16 АПРЕЛЯ</div>
<div class="xl" style="right:391.9px;top:471.6px">14 МАЯ</div>
<div class="grid" style="left:537.0px;top:391.1px;width:109.0px"></div>
<svg class="bars" width="900" height="541" viewBox="0 0 900 541"><rect x="541.00" y="443.29" width="3.62" height="22.41" fill="#f07078"/><rect x="541.00" y="443.29" width="3.22" height="22.41" fill="#c91420"/><rect x="544.62" y="443.29" width="3.62" height="22.41" fill="#f07078"/><rect x="544.62" y="443.29" width="3.22" height="22.41" fill="#c91420"/><rect x="548.24" y="450.76" width="3.62" height="14.94" fill="#f07078"/><rect x="548.24" y="450.76" width="3.22" height="14.94" fill="#c91420"/><rect x="551.86" y="458.23" width="3.62" height="7.47" fill="#f07078"/><rect x="551.86" y="458.23" width="3.22" height="7.47" fill="#c91420"/><rect x="555.48" y="435.82" width="3.62" height="29.88" fill="#f07078"/><rect x="555.48" y="435.82" width="3.22" height="29.88" fill="#c91420"/><rect x="559.10" y="443.29" width="3.62" height="22.41" fill="#f07078"/><rect x="559.10" y="443.29" width="3.22" height="22.41" fill="#c91420"/><rect x="562.72" y="450.76" width="3.62" height="14.94" fill="#f07078"/><rect x="562.72" y="450.76" width="3.22" height="14.94" fill="#c91420"/><rect x="566.34" y="443.29" width="3.62" height="22.41" fill="#f07078"/><rect x="566.34" y="443.29" width="3.22" height="22.41" fill="#c91420"/><rect x="569.97" y="450.76" width="3.62" height="14.94" fill="#f07078"/><rect x="569.97" y="450.76" width="3.22" height="14.94" fill="#c91420"/><rect x="573.59" y="435.82" width="3.62" height="29.88" fill="#f07078"/><rect x="573.59" y="435.82" width="3.22" height="29.88" fill="#c91420"/><rect x="577.21" y="420.88" width="3.62" height="44.82" fill="#f07078"/><rect x="577.21" y="420.88" width="3.22" height="44.82" fill="#c91420"/><rect x="580.83" y="435.82" width="3.62" height="29.88" fill="#f07078"/><rect x="580.83" y="435.82" width="3.22" height="29.88" fill="#c91420"/><rect x="584.45" y="435.82" width="3.62" height="29.88" fill="#f07078"/><rect x="584.45" y="435.82" width="3.22" height="29.88" fill="#c91420"/><rect x="588.07" y="443.29" width="3.62" height="22.41" fill="#f07078"/><rect x="588.07" y="443.29" width="3.22" height="22.41" fill="#c91420"/><rect x="591.69" y="435.82" width="3.62" height="29.88" fill="#f07078"/><rect x="591.69" y="435.82" width="3.22" height="29.88" fill="#c91420"/><rect x="595.31" y="428.35" width="3.62" height="37.35" fill="#f07078"/><rect x="595.31" y="428.35" width="3.22" height="37.35" fill="#c91420"/><rect x="598.93" y="428.35" width="3.62" height="37.35" fill="#f07078"/><rect x="598.93" y="428.35" width="3.22" height="37.35" fill="#c91420"/><rect x="602.55" y="420.88" width="3.62" height="44.82" fill="#f07078"/><rect x="602.55" y="420.88" width="3.22" height="44.82" fill="#c91420"/><rect x="606.17" y="428.35" width="3.62" height="37.35" fill="#f07078"/><rect x="606.17" y="428.35" width="3.22" height="37.35" fill="#c91420"/><rect x="609.79" y="435.82" width="3.62" height="29.88" fill="#f07078"/><rect x="609.79" y="435.82" width="3.22" height="29.88" fill="#c91420"/><rect x="613.41" y="443.29" width="3.62" height="22.41" fill="#f07078"/><rect x="613.41" y="443.29" width="3.22" height="22.41" fill="#c91420"/><rect x="617.03" y="450.76" width="3.62" height="14.94" fill="#f07078"/><rect x="617.03" y="450.76" width="3.22" height="14.94" fill="#c91420"/><rect x="620.66" y="435.82" width="3.62" height="29.88" fill="#f07078"/><rect x="620.66" y="435.82" width="3.22" height="29.88" fill="#c91420"/><rect x="624.28" y="450.76" width="3.62" height="14.94" fill="#f07078"/><rect x="624.28" y="450.76" width="3.22" height="14.94" fill="#c91420"/><rect x="627.90" y="435.82" width="3.62" height="29.88" fill="#f07078"/><rect x="627.90" y="435.82" width="3.22" height="29.88" fill="#c91420"/><rect x="631.52" y="428.35" width="3.62" height="37.35" fill="#f07078"/><rect x="631.52" y="428.35" width="3.22" height="37.35" fill="#c91420"/><rect x="635.14" y="435.82" width="3.62" height="29.88" fill="#f07078"/><rect x="635.14" y="435.82" width="3.22" height="29.88" fill="#c91420"/><rect x="638.76" y="450.76" width="3.62" height="14.94" fill="#f07078"/><rect x="638.76" y="450.76" width="3.22" height="14.94" fill="#c91420"/><rect x="642.38" y="443.29" width="3.62" height="22.41" fill="#f07078"/><rect x="642.38" y="443.29" width="3.22" height="22.41" fill="#c91420"/></svg>
<div class="yl" style="right:364.0px;top:387.0px">10</div>
<div class="yl" style="right:364.0px;top:424.4px">5</div>
<div class="yl" style="right:364.0px;top:461.7px">0</div>
<div class="xl" style="left:527.8px;top:471.6px">16 АПРЕЛЯ</div>
<div class="xl" style="right:245.5px;top:471.6px">14 МАЯ</div>
</body></html>
